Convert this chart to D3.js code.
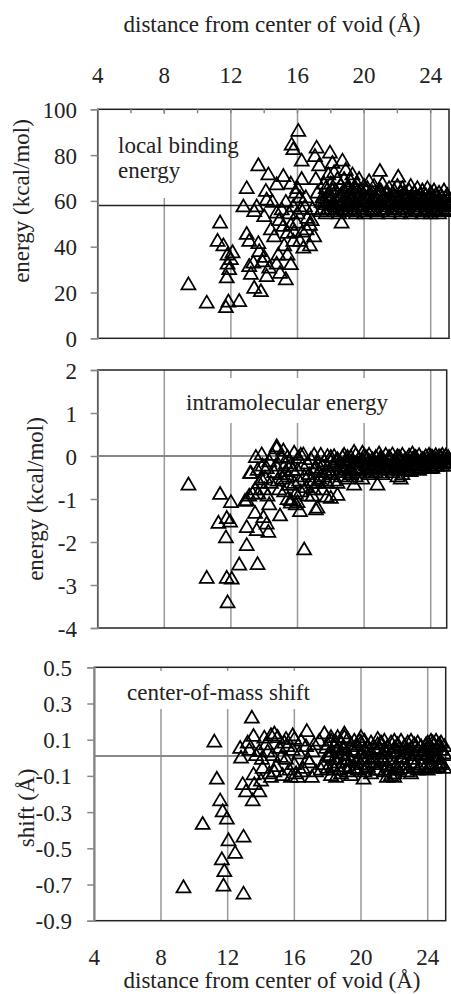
<!DOCTYPE html>
<html>
<head>
<meta charset="utf-8">
<script src="https://cdn.jsdelivr.net/npm/d3@7"></script>
<style>
  html, body { margin: 0; padding: 0; background: #fff; }
  svg { display: block; font-family: "Liberation Serif", "Times New Roman", serif; }
</style>
</head>
<body>
<div id="chart"></div>
<script>
// distance from center of void (A) vs. value
const binding = [
  [9.45,24],[10.55,16],[11.35,51],[11.2,43],[11.55,41],[11.7,14],[11.85,16.5],[11.75,27],[11.9,30.6],[11.8,37],
  [12.0,35],[12.1,38],[11.8,33],[12.5,16.7],[12.95,66],[12.75,58],[12.95,46],[13.1,43],[13.35,33.5],[13.4,22.5],
  [13.65,76],[13.65,42],[13.55,58],[13.4,56],[13.1,32],[13.2,28.6],[13.8,21],[14.0,36],[13.7,38.5],[13.9,34],
  [14.15,61],[14.25,72],[14.15,27.6],[14.3,31.3],[14.0,53.8],[14.1,64.8],[14.75,55.3],[14.75,67.7],[14.95,29],[14.85,37],
  [14.75,33],[15.15,71.3],[15.15,49.5],[15.05,56.7],[15.4,46.5],[15.3,26.2],[15.6,32.8],[15.4,37],[15.65,85],[15.75,83],
  [16.05,91],[15.6,68],[15.75,58],[15.6,50],[15.75,43],[15.95,51],[15.9,64],[16.25,78],[16.25,70],[16.15,62],
  [16.15,43],[16.35,40],[16.45,58],[16.55,48],[16.75,41],[16.75,50],[16.85,52],[17.0,45],[17.15,83.7],[17.05,80],
  [17.3,76],[17.2,64],[17.45,60],[17.95,81.5],[17.85,72],[18.1,77],[18.5,58],[18.65,51],[18.7,78],[18.8,70],
  [19.3,72],[19.55,68],[19.1,63],[19.7,64],[20.95,73.5],[22.05,71],
  [14.6,45],[14.9,52],[15.2,41],[15.5,55],[15.8,47],[16.0,55],[16.3,47],[16.6,53],[16.2,57],[15.3,60],
  [14.5,60],[14.4,48],[16.9,57],[16.5,62],[16.0,66],[17.4,56],[17.6,68],[17.1,70],
  [17.5,62],[17.5,57],[17.7,66],[17.7,59],[17.7,55],[17.9,60],[17.9,64],[18.0,57],[18.0,68],[18.0,62],
  [18.2,59],[18.2,73],[18.2,56],[18.3,65],[18.3,61],[18.4,70],[18.4,57],[18.6,63],[18.6,59],[18.6,67],
  [18.8,56],[18.8,61],[18.8,65],[18.9,74],[18.9,58],[19.0,60],[19.0,66],[19.0,56],[19.2,62],[19.2,69],
  [19.2,58],[19.4,57],[19.4,64],[19.5,60],[19.5,66],[19.5,55],[19.7,58],[19.7,62],[19.7,70],[19.8,56],
  [19.8,65],[20.0,59],[20.0,63],[20.0,67],[20.0,55],[20.2,57],[20.2,61],[20.2,66],[20.3,69],[20.3,59],
  [20.5,56],[20.5,62],[20.5,64],[20.6,58],[20.6,67],[20.6,60],[20.8,55],[20.8,63],[20.8,61],[21.0,57],
  [21.0,65],[21.0,59],[21.1,62],[21.1,56],[21.1,68],[21.3,60],[21.3,64],[21.3,57],[21.5,58],[21.5,66],
  [21.5,55],[21.5,62],[21.6,61],[21.6,59],[21.8,56],[21.8,63],[21.8,65],[22.0,58],[22.0,60],[22.0,67],
  [22.2,55],[22.2,62],[22.2,64],[22.3,59],[22.3,66],[22.3,57],[22.5,61],[22.5,56],[22.5,63],[22.7,58],
  [22.7,65],[22.7,60],[22.8,55],[22.8,62],[22.8,67],[23.0,57],[23.0,60],[23.0,64],[23.2,59],[23.2,66],
  [23.2,56],[23.3,62],[23.3,58],[23.5,55],[23.5,61],[23.5,65],[23.5,59],[23.7,57],[23.7,63],[23.7,60],
  [23.8,56],[23.8,66],[24.0,58],[24.0,62],[24.0,64],[24.0,55],[24.2,60],[24.2,57],[24.2,65],[24.3,59],
  [24.3,63],[24.3,56],[24.5,55],[24.5,61],[24.5,64],[24.5,58],[24.7,57],[24.7,62],[24.7,60],[24.8,56],
  [24.8,65],[24.8,59],[25.0,58],[25.0,61],[25.0,63],[25.0,56],
  [17.6,60],[17.8,57],[17.8,63],[18.1,59],[18.1,65],[18.3,58],[18.5,62],[18.5,55],[18.7,60],[18.7,64],
  [18.9,57],[19.1,59],[19.1,66],[19.3,56],[19.3,61],[19.6,58],[19.6,63],[19.9,60],[19.9,57],[20.1,62],
  [20.1,65],[20.4,57],[20.4,60],[20.7,56],[20.7,62],[20.9,59],[20.9,65],[21.2,57],[21.2,61],[21.4,59],
  [21.4,64],[21.7,57],[21.7,61],[21.9,59],[21.9,62],[22.1,57],[22.1,61],[22.4,58],[22.4,64],[22.6,57],
  [22.6,62],[22.9,59],[22.9,61],[23.1,56],[23.1,62],[23.4,58],[23.4,63],[23.6,56],[23.6,61],[23.9,59],
  [23.9,62],[24.1,57],[24.1,61],[24.4,58],[24.4,62],[24.6,56],[24.6,60],[24.9,58],[24.9,62],[25.05,59],
  [25.05,57]
];

const intramolecular = [
  [9.45,-0.64],[10.55,-2.81],[11.35,-0.86],[11.25,-1.53],[11.75,-1.42],[11.95,-1.5],[11.7,-1.87],[11.75,-2.81],[12.05,-2.83],[11.8,-3.38],
  [12.0,-1.05],[12.5,-2.5],[12.95,-2.05],[12.95,-1.63],[12.85,-1.02],[13.1,-0.9],[13.2,-0.37],[13.5,0.0],[13.85,0.06],[13.55,-1.7],
  [13.6,-2.49],[13.45,-1.3],[13.65,-0.85],[13.95,-1.4],[14.15,-0.26],[14.05,-0.48],[14.3,-1.1],[14.25,-1.74],[14.15,-1.55],[14.95,-1.36],
  [14.75,0.25],[15.15,0.15],[15.05,-0.02],[15.3,-0.33],[15.4,-0.98],[15.6,-1.06],[15.9,-1.1],[16.15,-1.26],[16.05,-0.02],[16.35,0.06],
  [16.4,-2.15],[17.1,-1.22],[17.2,-1.18],[16.9,-0.9],[17.75,-0.92],[18.0,-0.95],[18.4,-0.88],[18.2,0.02],[18.7,0.0],[19.4,0.12],
  [19.4,-0.64],[20.8,-0.64],[22.0,-0.45],[22.2,-0.5],[22.8,-0.33],[24.0,-0.26],
  [13.15,-0.37],[13.45,-0.75],[13.85,-0.52],[12.95,-1.0],[14.75,0.2],[15.05,0.0],
  [13.9,-0.2],[14.4,-0.6],[14.6,-0.35],[14.9,-0.75],[15.1,-0.5],[15.3,-0.15],[15.5,-0.65],[15.7,-0.3],[15.9,-0.85],[16.1,-0.55],
  [16.3,-0.2],[16.5,-0.7],[16.7,-0.4],[16.9,-0.6],[17.1,-0.25],[17.3,-0.5],[17.5,-0.75],[17.7,-0.35],[14.2,-0.9],[15.6,-1.0],
  [16.0,-1.05],[16.6,-0.9],[13.3,-0.85],[13.7,-0.6],[14.5,0.05],[15.8,0.1],[16.8,-0.05],[17.4,0.05],
  [17.0,-0.3],[17.0,0.05],[17.2,-0.6],[17.2,-0.15],[17.6,-0.1],[17.6,-0.45],[17.8,0.02],[17.8,-0.6],
  [18.0,-0.1],[18.0,-0.4],[18.0,0.0],[18.2,-0.55],[18.2,-0.2],[18.4,-0.3],[18.4,-0.05],[18.4,-0.6],[18.6,-0.15],[18.6,-0.45],
  [18.8,-0.35],[18.8,0.05],[18.8,-0.25],[19.0,-0.5],[19.0,-0.1],[19.0,-0.2],[19.2,-0.3],[19.2,0.0],[19.2,-0.4],[19.5,-0.15],
  [19.5,-0.45],[19.5,0.05],[19.7,-0.25],[19.7,-0.05],[19.7,-0.35],[19.9,-0.5],[19.9,-0.1],[19.9,0.1],[20.1,-0.2],[20.1,-0.3],
  [20.1,0.0],[20.3,-0.4],[20.3,-0.1],[20.3,0.05],[20.5,-0.25],[20.5,-0.15],[20.5,-0.05],[20.7,-0.35],[20.7,0.0],[20.7,-0.2],
  [20.9,-0.1],[20.9,-0.3],[20.9,0.08],[21.1,-0.2],[21.1,-0.05],[21.1,-0.4],[21.3,-0.25],[21.3,0.05],[21.3,-0.15],[21.5,-0.3],
  [21.5,-0.1],[21.5,0.0],[21.7,-0.2],[21.7,-0.35],[21.7,0.06],[21.9,-0.05],[21.9,-0.25],[21.9,-0.15],[22.1,-0.3],[22.1,0.0],
  [22.1,-0.1],[22.3,-0.2],[22.3,0.05],[22.3,-0.4],[22.5,-0.15],[22.5,-0.05],[22.5,-0.25],[22.7,-0.3],[22.7,0.03],[22.7,-0.1],
  [22.9,-0.2],[22.9,-0.05],[22.9,0.08],[23.1,-0.25],[23.1,-0.1],[23.1,0.0],[23.3,-0.15],[23.3,0.04],[23.3,-0.3],[23.5,-0.2],
  [23.5,-0.05],[23.5,-0.1],[23.7,-0.25],[23.7,0.02],[23.7,-0.15],[23.9,-0.1],[23.9,-0.2],[23.9,0.05],[24.1,-0.15],[24.1,0.0],
  [24.1,-0.25],[24.3,-0.05],[24.3,-0.2],[24.3,0.04],[24.5,-0.15],[24.5,-0.1],[24.5,0.02],[24.7,-0.2],[24.7,-0.05],[24.7,0.05],
  [24.9,-0.1],[24.9,-0.15],[24.9,0.03],[25.05,-0.12],[25.05,0.0],[25.05,-0.05],
  [18.1,-0.2],[18.3,-0.1],[18.5,-0.35],[18.7,-0.2],[18.9,-0.1],[19.1,-0.3],[19.3,-0.15],[19.6,-0.25],[19.8,-0.1],[20.0,-0.15],
  [20.2,-0.05],[20.4,-0.25],[20.6,-0.1],[20.8,-0.15],[21.0,-0.05],[21.2,-0.1],[21.4,-0.2],[21.6,-0.05],[21.8,-0.1],[22.0,-0.2],
  [22.2,-0.05],[22.4,-0.1],[22.6,-0.2],[22.8,-0.15],[23.0,-0.05],[23.2,-0.2],[23.4,-0.1],[23.6,-0.05],[23.8,-0.15],[24.0,-0.05],
  [24.2,-0.1],[24.4,-0.2],[24.6,0.0],[24.8,-0.1],[25.0,-0.2],[19.0,0.0],[20.0,0.03],[21.0,0.0],[22.0,0.02],[23.0,-0.02],
  [24.0,0.02],[19.5,-0.3],[20.5,-0.35],[21.5,-0.2],[22.5,-0.3],[23.5,-0.25],
  [14.3,-0.1],[14.7,-0.2],[15.0,-0.4],[15.2,-0.8],[15.4,-0.45],[15.6,-0.2],[15.8,-0.6],[16.0,-0.3],[16.2,-0.8],[16.4,-0.45],
  [16.6,-0.15],[16.8,-0.55],[17.0,-0.75],[17.3,-0.35],[17.5,-0.2],[17.7,-0.55],[17.9,-0.3],[14.8,-0.55],[15.4,0.0],[16.2,0.05],
  [13.6,-0.3],[14.0,-0.75]
];

const shift = [
  [9.35,-0.71],[10.5,-0.36],[11.2,0.095],[11.35,-0.11],[11.55,-0.23],[11.7,-0.29],[11.95,-0.33],[12.05,-0.45],[12.45,-0.52],[11.65,-0.555],
  [11.8,-0.62],[11.75,-0.7],[12.95,-0.43],[12.95,-0.745],[13.45,0.227],[13.55,0.126],[12.75,0.06],[12.8,0.006],[13.2,0.09],[13.55,-0.086],
  [12.9,-0.14],[13.1,-0.18],[13.6,-0.14],[13.9,-0.18],[13.5,-0.23],[14.0,-0.12],[14.2,0.117],[13.9,0.043],[14.05,0.0],[14.6,0.13],
  [14.8,0.14],[16.75,0.153],[15.5,0.11],[15.9,0.13],[17.05,-0.1],[17.8,0.14],[18.2,0.12],[19.0,0.14],[20.15,-0.11],[21.55,-0.1],
  [22.0,-0.1],
  [13.3,0.05],[13.7,0.02],[14.1,-0.05],[14.3,0.08],[14.5,-0.08],[14.7,0.02],[14.9,-0.04],[15.1,0.06],[15.3,-0.09],[15.5,0.0],
  [15.7,-0.06],[15.9,0.05],[16.1,-0.08],[16.3,0.03],[16.5,-0.05],[16.7,0.07],[16.9,-0.02],[17.1,0.04],[17.3,-0.07],[17.5,0.1],
  [17.7,-0.03],[17.9,0.06],[15.0,0.12],[16.0,0.11],[15.4,0.09],[16.4,0.1],[14.6,-0.1],[15.8,-0.1],[16.2,-0.1],
  [18.0,-0.05],[18.0,0.08],[18.0,0.02],[18.2,-0.09],[18.2,0.04],[18.2,0.1],[18.4,0.0],[18.4,-0.06],[18.4,0.07],[18.6,0.12],
  [18.6,-0.02],[18.6,0.05],[18.8,-0.08],[18.8,0.03],[18.8,0.09],[19.0,-0.04],[19.0,0.06],[19.0,0.0],[19.2,0.11],[19.2,-0.07],
  [19.2,0.02],[19.4,-0.01],[19.4,0.08],[19.4,-0.09],[19.6,0.04],[19.6,-0.05],[19.6,0.1],[19.8,0.0],[19.8,0.07],[19.8,-0.06],
  [20.0,0.09],[20.0,-0.03],[20.0,0.03],[20.2,-0.07],[20.2,0.05],[20.2,0.1],[20.4,0.01],[20.4,-0.04],[20.4,0.07],[20.6,0.09],
  [20.6,-0.08],[20.6,0.03],[20.8,-0.02],[20.8,0.06],[20.8,0.0],[21.0,0.08],[21.0,-0.06],[21.0,0.04],[21.2,-0.03],[21.2,0.09],
  [21.2,0.01],[21.4,0.05],[21.4,-0.07],[21.4,0.1],[21.6,0.0],[21.6,-0.04],[21.6,0.07],[21.8,0.03],[21.8,-0.09],[21.8,0.09],
  [22.0,0.06],[22.0,-0.02],[22.0,0.1],[22.2,-0.06],[22.2,0.04],[22.2,0.08],[22.4,0.01],[22.4,-0.05],[22.4,0.1],[22.6,0.07],
  [22.6,-0.03],[22.6,0.03],[22.8,-0.07],[22.8,0.05],[22.8,0.09],[23.0,0.0],[23.0,-0.08],[23.0,0.06],[23.2,0.08],[23.2,-0.04],
  [23.2,0.02],[23.4,-0.06],[23.4,0.05],[23.4,0.09],[23.6,0.02],[23.6,-0.03],[23.6,0.07],[23.8,-0.05],[23.8,0.04],[23.8,0.0],
  [24.0,0.06],[24.0,-0.06],[24.0,0.09],[24.2,0.01],[24.2,-0.03],[24.2,0.1],[24.4,0.08],[24.4,-0.05],[24.4,0.04],[24.6,0.0],
  [24.6,0.07],[24.6,-0.04],[24.8,0.05],[24.8,-0.02],[24.8,0.09],[25.0,0.03],[25.0,-0.05],[25.0,0.07],
  [14.4,0.04],[14.8,-0.07],[15.2,0.01],[15.6,0.07],[16.0,-0.03],[16.4,-0.07],[16.8,0.0],[17.2,0.08],[17.6,-0.06],[18.1,0.01],
  [18.3,-0.04],[18.5,0.09],[18.7,-0.06],[18.9,0.06],[19.1,0.0],[19.3,-0.05],[19.5,0.05],[19.7,-0.02],[19.9,0.1],[20.1,0.0],
  [20.3,-0.05],[20.5,0.05],[20.7,0.01],[20.9,-0.06],[21.1,0.06],[21.3,-0.01],[21.5,0.03],[21.7,-0.06],[21.9,0.04],[22.1,-0.04],
  [22.3,0.06],[22.5,0.0],[22.7,-0.05],[22.9,0.03],[23.1,-0.02],[23.3,0.07],[23.5,-0.05],[23.7,0.03],[23.9,0.08],[24.1,-0.04],
  [24.3,0.05],[24.5,0.0],[24.7,0.08],[24.9,-0.03],[25.05,0.02],[18.5,-0.1],[19.0,0.12],[20.0,0.12],[21.0,0.11],[22.0,-0.08],
  [23.0,0.1],[24.0,0.02],[24.3,0.09],[24.5,0.1],[24.7,-0.03]
];

const xTicks = [4, 8, 12, 16, 20, 24];
const xGrid = [8, 12, 16, 20, 24];
const xMinor = [6, 8, 10, 12, 14, 16, 18, 20, 22, 24];
const bindingTicks = [0, 20, 40, 60, 80, 100];
const intraTicks = [-4, -3, -2, -1, 0, 1, 2];
const shiftTicks = [-0.9, -0.7, -0.5, -0.3, -0.1, 0.1, 0.3, 0.5];
const refLevels = [58, 0, 0.01];
const xTitle = "distance from center of void (Å)";

const W = 451, H = 994;
const svg = d3.select("#chart").append("svg").attr("width", W).attr("height", H);

const FONT = 23;
const tri = "M0,-6L7,6L-7,6Z";

const panels = [
  { data: binding, ticks: bindingTicks, domain: [0, 100], fmt: d => String(d), ref: refLevels[0],
    left: 97.7, right: 449, top: 109.3, bottom: 338.3, xMax: 25.1, labelX: 77, yTitle: "energy (kcal/mol)",
    yTitleX: 21, yTitleY: 201, refColor: "#222", minorTop: true,
    box: [100, 114, 229, 198], text: ["local binding", "energy"], textX: 118, textY: [153, 178] },
  { data: intramolecular, ticks: intraTicks, domain: [-4, 2], fmt: d => String(d), ref: refLevels[1],
    left: 97.7, right: 446.7, top: 370, bottom: 628, xMax: 24.96, labelX: 77, yTitle: "energy (kcal/mol)",
    yTitleX: 35, yTitleY: 499, refColor: "#888", minorTop: false,
    box: [167, 378, 401, 423], text: ["intramolecular energy"], textX: 186, textY: [410] },
  { data: shift, ticks: shiftTicks, domain: [-0.9, 0.5], fmt: d => d.toFixed(1), ref: refLevels[2],
    left: 94.3, right: 445.7, top: 667.3, bottom: 920.7, xMax: 25.08, labelX: 72, yTitle: "shift (Å)",
    yTitleX: 26, yTitleY: 808, refColor: "#888", minorTop: false,
    box: [96, 671, 318, 709], text: ["center-of-mass shift"], textX: 127, textY: [700] }
];

panels.forEach((p, i) => {
  const x = d3.scaleLinear().domain([4, p.xMax]).range([p.left, p.right]);
  const y = d3.scaleLinear().domain(p.domain).range([p.bottom, p.top]);
  const g = svg.append("g");

  // vertical gridlines
  g.selectAll(".grid").data(xGrid).join("line")
    .attr("x1", d => x(d)).attr("x2", d => x(d))
    .attr("y1", p.top).attr("y2", p.bottom)
    .attr("stroke", "#999").attr("stroke-width", 1.5);

  // horizontal axis line (crosses at ref level)
  g.append("line")
    .attr("x1", p.left).attr("x2", p.right)
    .attr("y1", y(p.ref)).attr("y2", y(p.ref))
    .attr("stroke", p.refColor).attr("stroke-width", i === 0 ? 1.5 : 2);

  // frame
  g.append("rect")
    .attr("x", p.left).attr("y", p.top)
    .attr("width", p.right - p.left).attr("height", p.bottom - p.top)
    .attr("fill", "none").attr("stroke", "#222").attr("stroke-width", 1.5);

  if (p.minorTop) {
    g.selectAll(".minor").data(xMinor).join("line")
      .attr("x1", d => x(d)).attr("x2", d => x(d))
      .attr("y1", p.top).attr("y2", p.top + 4)
      .attr("stroke", "#888").attr("stroke-width", 1.5);
  }

  // label box hiding gridlines
  g.append("rect")
    .attr("x", p.box[0]).attr("y", p.box[1])
    .attr("width", p.box[2] - p.box[0]).attr("height", p.box[3] - p.box[1])
    .attr("fill", "#fff");
  g.selectAll(".ptext").data(p.text).join("text")
    .attr("x", p.textX).attr("y", (d, k) => p.textY[k])
    .attr("font-size", FONT).attr("fill", "#222")
    .text(d => d);

  // left axis
  const ax = g.append("g").attr("transform", `translate(${p.left},0)`)
    .call(d3.axisLeft(y).tickValues(p.ticks).tickFormat(p.fmt).tickSize(7).tickPadding(0));
  ax.select(".domain").attr("stroke", "#888").attr("stroke-width", 1.5);
  ax.selectAll(".tick line").attr("stroke", "#888").attr("stroke-width", 1.5);
  ax.selectAll(".tick text").remove();

  g.selectAll(".ylab").data(p.ticks).join("text")
    .attr("x", p.labelX).attr("y", d => y(d) + 1)
    .attr("text-anchor", "end").attr("dominant-baseline", "central")
    .attr("font-size", FONT).attr("fill", "#222")
    .text(p.fmt);

  // y title
  g.append("text")
    .attr("transform", `translate(${p.yTitleX},${p.yTitleY}) rotate(-90)`)
    .attr("text-anchor", "middle").attr("dominant-baseline", "central")
    .attr("font-size", FONT).attr("fill", "#222")
    .text(p.yTitle);

  // markers
  g.selectAll(".pt").data(p.data).join("path")
    .attr("d", tri)
    .attr("transform", d => `translate(${x(d[0])},${y(d[1])})`)
    .attr("fill", "none").attr("stroke", "#000").attr("stroke-width", 1.75);

  // x tick labels on top of first panel, bottom of last
  if (i === 0) {
    svg.selectAll(".xtop").data(xTicks).join("text")
      .attr("x", d => x(d)).attr("y", 83)
      .attr("text-anchor", "middle").attr("font-size", FONT).attr("fill", "#222")
      .text(d => d);
    svg.append("text").attr("x", 272).attr("y", 32)
      .attr("text-anchor", "middle").attr("font-size", FONT).attr("fill", "#222")
      .text(xTitle);
  }
  if (i === 2) {
    svg.selectAll(".xbot").data(xTicks).join("text")
      .attr("x", d => x(d)).attr("y", 965)
      .attr("text-anchor", "middle").attr("font-size", FONT).attr("fill", "#222")
      .text(d => d);
    svg.append("text").attr("x", 272).attr("y", 988)
      .attr("text-anchor", "middle").attr("font-size", FONT).attr("fill", "#222")
      .text(xTitle);
  }
});
</script>
</body>
</html>
